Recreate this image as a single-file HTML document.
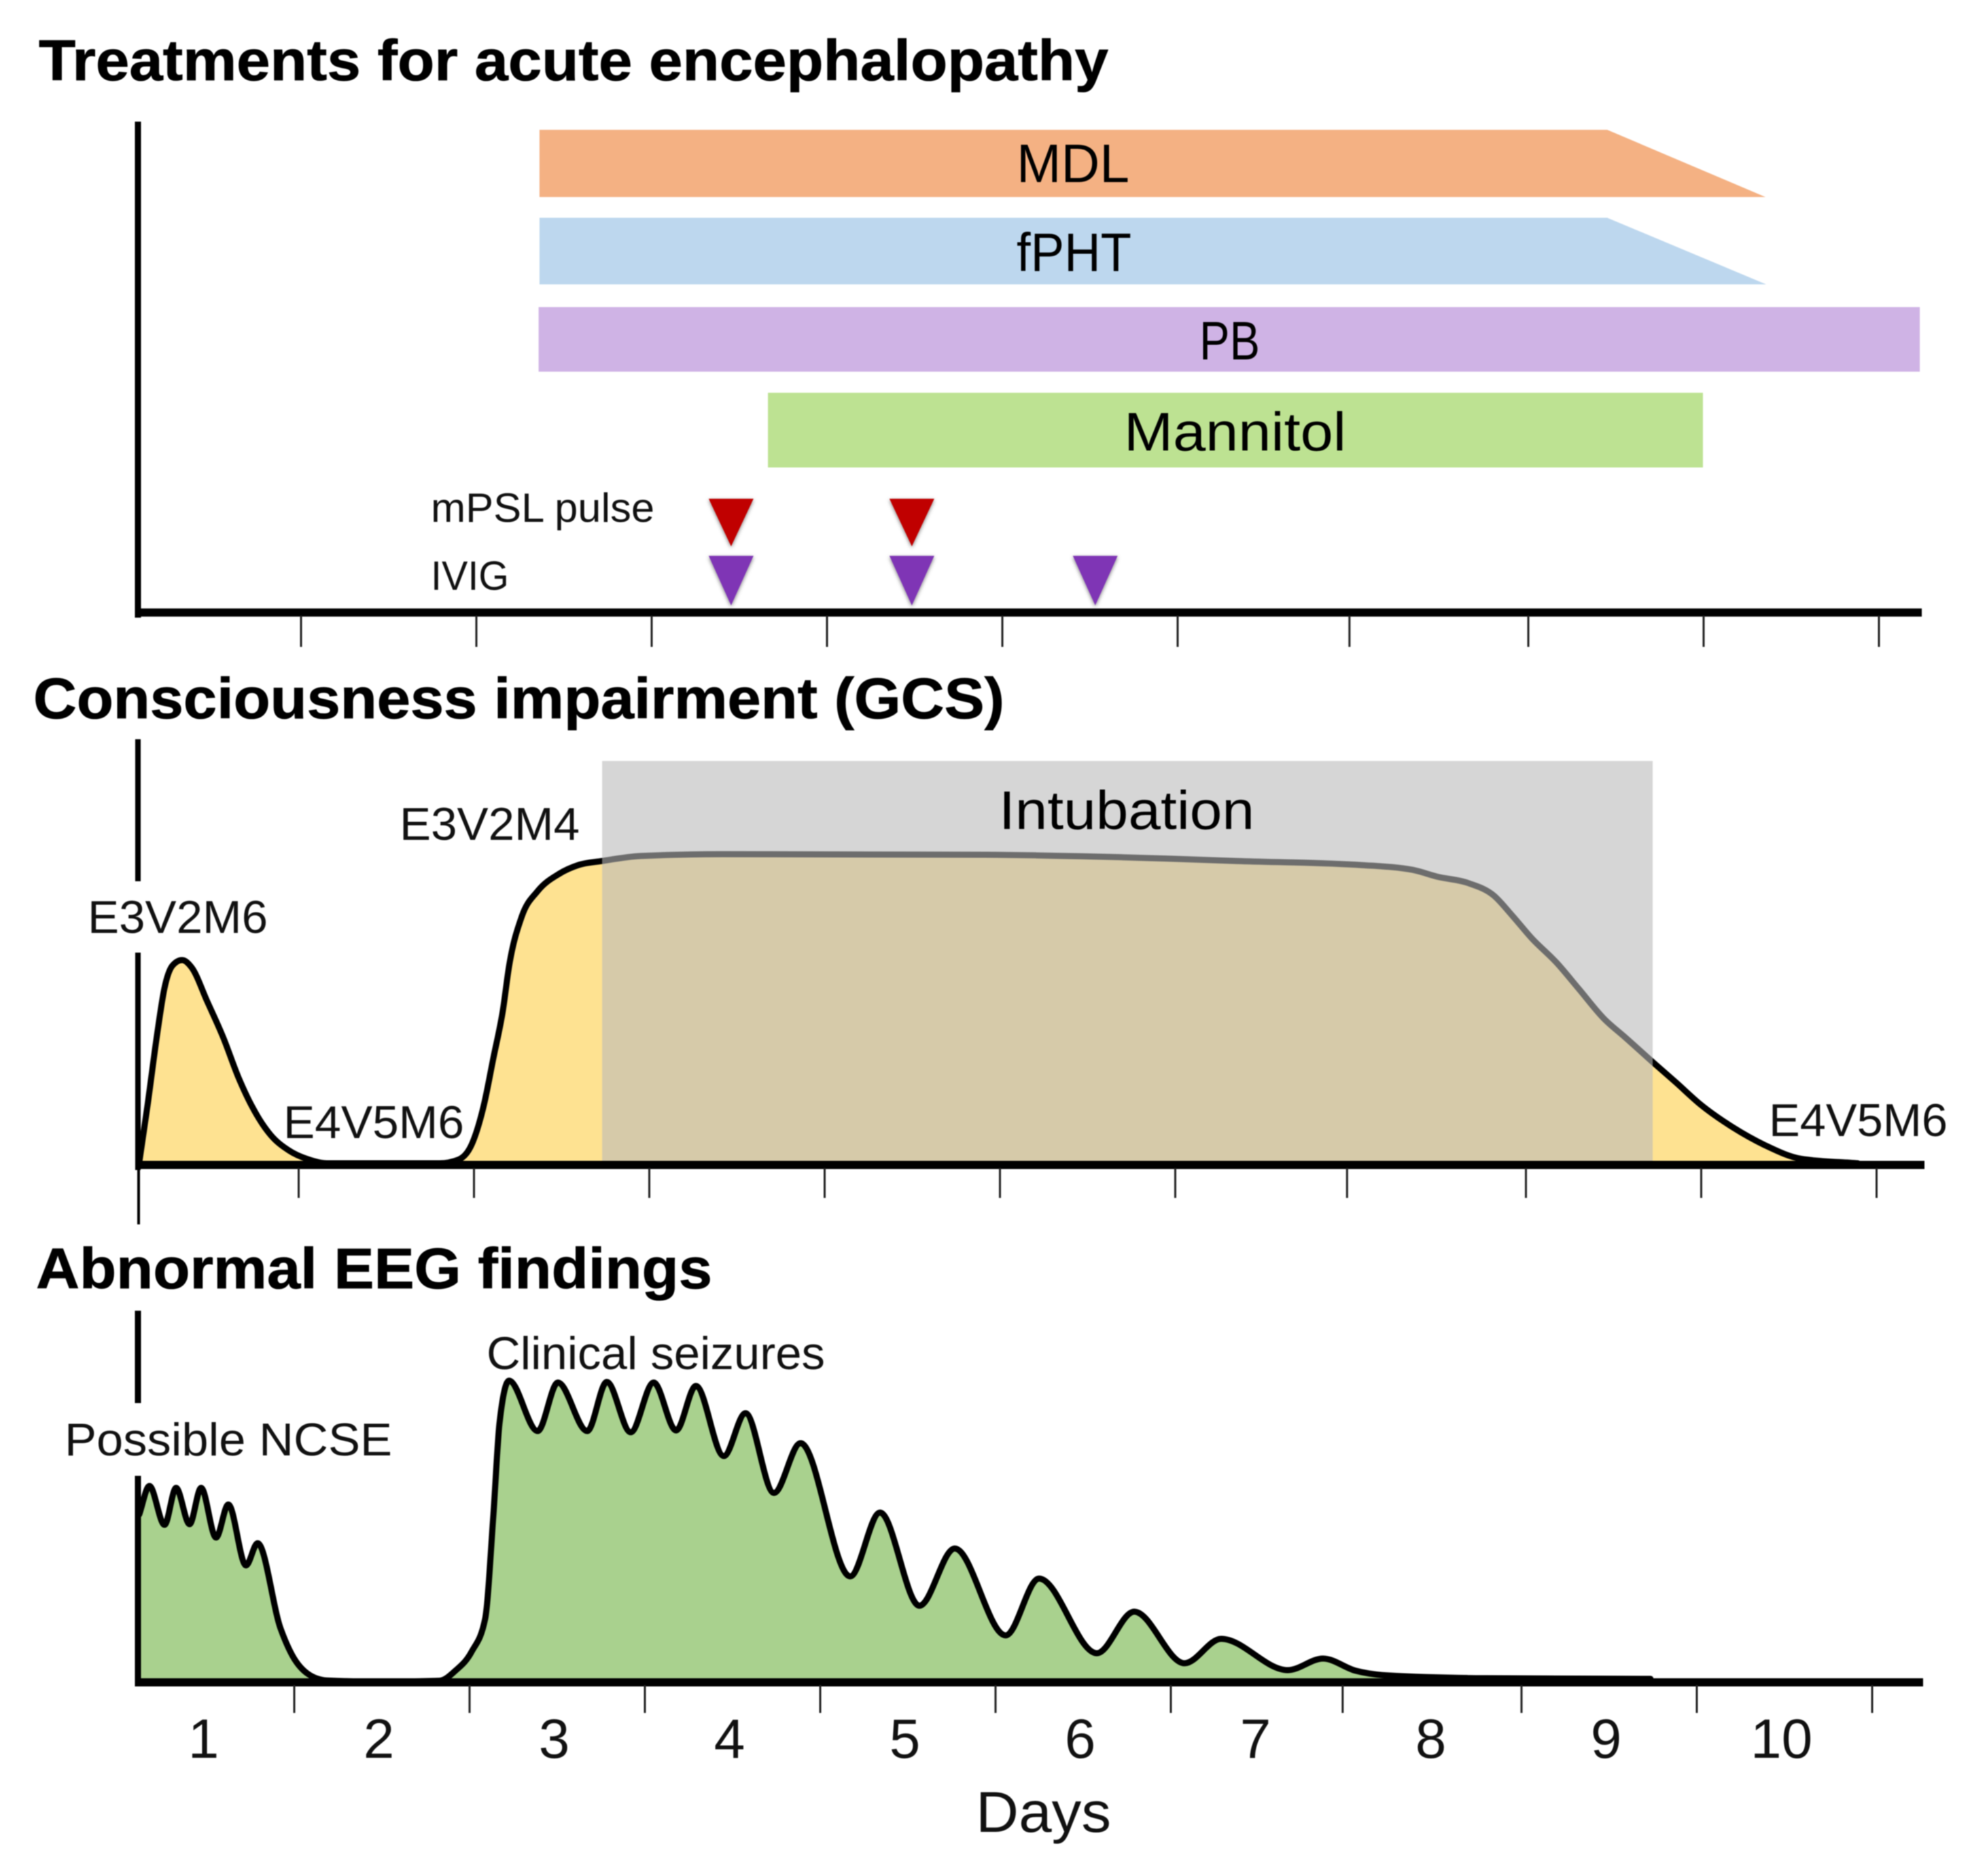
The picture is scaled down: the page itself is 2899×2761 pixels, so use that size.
<!DOCTYPE html>
<html lang="en">
<head>
<meta charset="utf-8">
<title>Treatments, consciousness impairment and EEG findings by day</title>
<style>
html,body{margin:0;padding:0;background:#fff;}
svg{display:block;filter:blur(0.9px);}
text{font-family:"Liberation Sans",sans-serif;fill:#111;}
.title{font-weight:bold;font-size:84px;fill:#000;stroke:#000;stroke-width:0.8px;}
.bar-label{font-size:80px;fill:#000;}
.note{font-size:68px;}
.small{font-size:60px;}
.day{font-size:82px;text-anchor:middle;}
</style>
</head>
<body>
<svg id="chart" xmlns="http://www.w3.org/2000/svg" width="2899" height="2761" viewBox="0 0 2899 2761">
  <defs>
    <filter id="tri-shadow" x="-30%" y="-30%" width="160%" height="160%">
      <feDropShadow dx="0" dy="2" stdDeviation="3" flood-color="#000" flood-opacity="0.5"/>
    </filter>
  </defs>
  <rect width="2899" height="2761" fill="#fff"/>

  <text class="title" x="57" y="118" textLength="1574" lengthAdjust="spacingAndGlyphs">Treatments for acute encephalopathy</text>
  <g id="treatment-layer"></g>
  <text class="bar-label" x="1496" y="268" textLength="166" lengthAdjust="spacingAndGlyphs">MDL</text>
  <text class="bar-label" x="1496" y="399" textLength="169" lengthAdjust="spacingAndGlyphs">fPHT</text>
  <text class="bar-label" x="1765" y="529" textLength="89" lengthAdjust="spacingAndGlyphs">PB</text>
  <text class="bar-label" x="1654" y="663" textLength="327" lengthAdjust="spacingAndGlyphs">Mannitol</text>
  <text class="small" x="634" y="768" textLength="329" lengthAdjust="spacingAndGlyphs">mPSL pulse</text>
  <text class="small" x="634" y="868" textLength="115" lengthAdjust="spacingAndGlyphs">IVIG</text>

  <text class="title" x="49" y="1057" textLength="1429" lengthAdjust="spacingAndGlyphs">Consciousness impairment (GCS)</text>
  <g id="gcs-layer"></g>
  <text class="bar-label" x="1470" y="1220" textLength="376" lengthAdjust="spacingAndGlyphs">Intubation</text>
  <text class="note" x="129" y="1373" textLength="265" lengthAdjust="spacingAndGlyphs">E3V2M6</text>
  <text class="note" x="588" y="1236" textLength="265" lengthAdjust="spacingAndGlyphs">E3V2M4</text>
  <text class="note" x="417" y="1675" textLength="266" lengthAdjust="spacingAndGlyphs">E4V5M6</text>
  <text class="note" x="2603" y="1672" textLength="263" lengthAdjust="spacingAndGlyphs">E4V5M6</text>

  <text class="title" x="53" y="1896" textLength="995" lengthAdjust="spacingAndGlyphs">Abnormal EEG findings</text>
  <g id="eeg-layer"></g>
  <text class="note" x="716" y="2015" textLength="498" lengthAdjust="spacingAndGlyphs">Clinical seizures</text>
  <text class="note" x="95" y="2142" textLength="482" lengthAdjust="spacingAndGlyphs">Possible NCSE</text>
  <g id="day-labels"></g>
  <text x="1436" y="2696" font-size="84" textLength="199" lengthAdjust="spacingAndGlyphs">Days</text>
</svg>

<script>
// Shared axis data
const tickDays = [1, 2, 3, 4, 5, 6, 6.98, 8, 9, 10];
const dayLabels = ['1', '2', '3', '4', '5', '6', '7', '8', '9', '10'];

// Treatments
const barNames = ['mdl', 'fpht', 'pb', 'mannitol'];
const barStartDay = [2.36, 2.36, 2.355, 3.663];
const barFullUntilDay = [8.45, 8.45, 10.233, 8.996];
const barEndDay = [9.353, 9.357, 10.233, 8.996];
const barColors = ['#f4b183', '#bdd7ee', '#cfb3e5', '#bde292'];
const mpslDays = [3.453, 4.484];
const ivigDays = [3.453, 4.484, 5.53];

// GCS impairment (0 = normal, 100 = deepest)
const intubationStartDay = 2.731;
const intubationEndDay = 8.723;
const gcsDays = [0.09,0.138,0.192,0.234,0.281,0.335,0.39,0.479,0.568,0.657,0.731,0.839,0.944,1.052,1.161,1.448,1.804,1.913,1.986,2.056,2.11,2.165,2.2,2.273,2.362,2.486,2.595,2.731,2.952,3.417,4.917,5.633,6.351,7.064,7.351,7.494,7.673,7.816,7.924,8.033,8.176,8.3,8.444,8.568,8.723,8.855,8.998,9.18,9.359,9.572,9.893];
const gcsLevel = [0,18.5,40.9,55.9,63.3,65,62.6,51.7,40.5,27.4,18.5,9.1,4.1,1.3,0,0,0,1.2,5.9,18.5,33.5,49,63,79,87,92.6,95.4,96.7,98.3,98.9,98.7,98,96.7,95.4,93.9,91.7,89.6,85.7,79.1,72,64.1,55.9,46.3,40.2,32.4,25.9,18.7,11.5,5.9,1.4,0];

// EEG abnormality (relative amplitude)
const eegDays = [0.116,0.174,0.26,0.326,0.403,0.469,0.554,0.624,0.725,0.791,0.922,0.988,1.078,1.186,1.473,1.829,1.919,2.012,2.089,2.136,2.171,2.225,2.388,2.504,2.671,2.783,2.919,3.05,3.178,3.291,3.45,3.574,3.736,3.888,4.171,4.341,4.566,4.767,5.058,5.248,5.578,5.791,6.078,6.287,6.667,6.868,7.054,7.233,7.806,8.736];
const eegLevel = [53.5,62.6,50.2,62,50.4,62,46.1,56.7,37.2,44.3,17,8.5,2.5,0.4,0,0.3,3.5,9.6,20.2,53.5,82.8,96.3,80.2,95.7,80.2,95.9,79.8,95.7,80.4,94.6,72.2,85.9,60.4,76.3,33.7,54.1,24.3,42.6,14.8,33,9.1,22.4,5.9,13.7,3.7,7.4,3.5,2,1.1,0.9];

const NS = 'http://www.w3.org/2000/svg';

function make(tag, attrs, parent) {
  const el = document.createElementNS(NS, tag);
  for (const k in attrs) el.setAttribute(k, attrs[k]);
  parent.appendChild(el);
  return el;
}

// Axis functions for each panel
const xTreat = d => 185 + 258 * d;
const xGcs = d => 181.5 + 258 * d;
const xEeg = d => 175 + 258 * d;
const yGcs = v => 1712 - 4.6 * v;
const yEeg = v => 2475 - 4.6 * v;

// Monotone cubic path through series points (rounded peaks, no overshoot)
function smoothPath(pts) {
  const n = pts.length;
  const slopes = [];
  for (let i = 0; i < n - 1; i++) {
    slopes.push((pts[i + 1][1] - pts[i][1]) / (pts[i + 1][0] - pts[i][0]));
  }
  const tangents = [slopes[0]];
  for (let i = 1; i < n - 1; i++) {
    const h0 = pts[i][0] - pts[i - 1][0], h1 = pts[i + 1][0] - pts[i][0];
    const s0 = slopes[i - 1], s1 = slopes[i];
    const p = (s0 * h1 + s1 * h0) / (h0 + h1);
    tangents.push((Math.sign(s0) + Math.sign(s1)) * Math.min(Math.abs(s0), Math.abs(s1), 0.5 * Math.abs(p)));
  }
  tangents.push(slopes[n - 2]);
  let d = 'M' + pts[0][0].toFixed(1) + ' ' + pts[0][1].toFixed(1);
  for (let i = 0; i < n - 1; i++) {
    const h = (pts[i + 1][0] - pts[i][0]) / 3;
    d += 'C' + (pts[i][0] + h).toFixed(1) + ' ' + (pts[i][1] + h * tangents[i]).toFixed(1) + ' ' +
         (pts[i + 1][0] - h).toFixed(1) + ' ' + (pts[i + 1][1] - h * tangents[i + 1]).toFixed(1) + ' ' +
         pts[i + 1][0].toFixed(1) + ' ' + pts[i + 1][1].toFixed(1);
  }
  return d;
}

function drawTicks(layer, xFn, top, bottom, prefix) {
  tickDays.forEach((d, i) => {
    const t = make('line', { x1: xFn(d), x2: xFn(d), y1: top, y2: bottom, stroke: '#222', 'stroke-width': 3 }, layer);
    
    
  });
}

function drawAxisLine(layer, x1, y1, x2, y2, width, name) {
  const l = make('line', { x1: x1, y1: y1, x2: x2, y2: y2, stroke: '#000', 'stroke-width': width }, layer);
  
  
}

// --- Treatments panel ---
const treat = document.getElementById('treatment-layer');
const rowTop = [191, 320.5, 452, 578];
const rowBottom = [290, 418.5, 547, 688];
barNames.forEach((name, i) => {
  const pts = [
    [xTreat(barStartDay[i]), rowTop[i]],
    [xTreat(barFullUntilDay[i]), rowTop[i]],
    [xTreat(barEndDay[i]), rowBottom[i]],
    [xTreat(barStartDay[i]), rowBottom[i]]
  ];
  const bar = make('polygon', { points: pts.map(p => p.join(',')).join(' '), fill: barColors[i] }, treat);
  
  
});
function drawTriangles(days, top, tip, color, prefix) {
  days.forEach((d, i) => {
    const cx = xTreat(d);
    const tri = make('polygon', {
      points: (cx - 33) + ',' + top + ' ' + (cx + 33) + ',' + top + ' ' + cx + ',' + tip,
      fill: color, filter: 'url(#tri-shadow)'
    }, treat);
    
    
  });
}
drawTriangles(mpslDays, 734, 804, '#c00000', 'mpsl');
drawTriangles(ivigDays, 818, 891, '#7f35b5', 'ivig');
drawAxisLine(treat, 203, 179, 203, 909, 9, 'treatments-y-axis');
drawAxisLine(treat, 199, 901.5, 2828, 901.5, 12, 'treatments-x-axis');
drawTicks(treat, xTreat, 906, 952, 'treatments');

// --- GCS panel ---
const gcs = document.getElementById('gcs-layer');
const gcsPts = gcsDays.map((d, i) => [xGcs(d), yGcs(gcsLevel[i])]);
const gcsLine = smoothPath(gcsPts);
const gcsArea = make('path', {
  d: gcsLine + 'L' + gcsPts[gcsPts.length - 1][0] + ' ' + yGcs(0) + 'L' + gcsPts[0][0] + ' ' + yGcs(0) + 'Z',
  fill: '#fee291'
}, gcs);


const gcsCurve = make('path', { d: gcsLine, fill: 'none', stroke: '#000', 'stroke-width': 9, 'stroke-linejoin': 'round', 'stroke-linecap': 'round' }, gcs);


const intub = make('rect', {
  x: xGcs(intubationStartDay), y: 1120,
  width: xGcs(intubationEndDay) - xGcs(intubationStartDay), height: 589,
  fill: 'rgb(185,185,185)', 'fill-opacity': 0.59
}, gcs);


drawAxisLine(gcs, 203, 1088, 203, 1297, 8, 'gcs-y-axis-upper');
drawAxisLine(gcs, 203, 1402, 203, 1722, 8, 'gcs-y-axis-lower');
drawAxisLine(gcs, 204, 1720, 204, 1802, 4, 'gcs-y-axis-extension');
drawAxisLine(gcs, 199, 1714.5, 2832, 1714.5, 12, 'gcs-x-axis');
drawTicks(gcs, xGcs, 1719, 1763, 'gcs');

// --- EEG panel ---
const eeg = document.getElementById('eeg-layer');
const eegPts = eegDays.map((d, i) => [xEeg(d), yEeg(eegLevel[i])]);
const eegLine = smoothPath(eegPts);
const eegArea = make('path', {
  d: eegLine + 'L' + eegPts[eegPts.length - 1][0] + ' ' + yEeg(0) + 'L203 ' + yEeg(0) + 'L203 ' + eegPts[0][1] + 'Z',
  fill: '#a9d18e'
}, eeg);


const eegCurve = make('path', { d: eegLine, fill: 'none', stroke: '#000', 'stroke-width': 9, 'stroke-linejoin': 'round', 'stroke-linecap': 'round' }, eeg);


drawAxisLine(eeg, 203, 1929, 203, 2065, 9, 'eeg-y-axis-upper');
drawAxisLine(eeg, 203, 2172, 203, 2482, 9, 'eeg-y-axis-lower');
drawAxisLine(eeg, 199, 2476, 2830, 2476, 12, 'eeg-x-axis');
drawTicks(eeg, xEeg, 2480, 2521, 'eeg');

// --- Day labels ---
const dayGroup = document.getElementById('day-labels');
dayLabels.forEach((label, i) => {
  const t = make('text', { class: 'day', x: xEeg(i + 1 - 0.517), y: 2587 }, dayGroup);
  t.textContent = label;
  
  
});
</script>
</body>
</html>
